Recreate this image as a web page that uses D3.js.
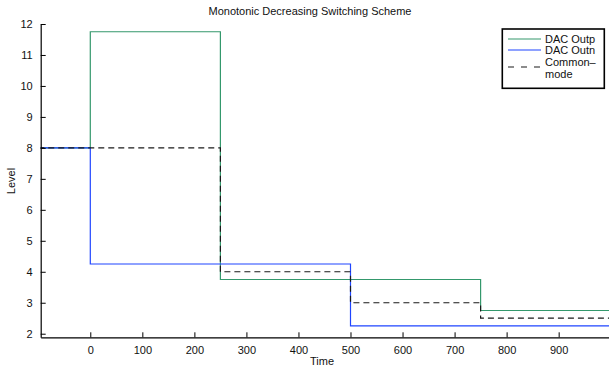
<!DOCTYPE html>
<html>
<head>
<meta charset="utf-8">
<script src="https://cdn.jsdelivr.net/npm/d3@7"></script>
<style>
  html, body { margin: 0; padding: 0; background: #fff; }
  svg { display: block; font-family: "Liberation Sans", Arial, Helvetica, sans-serif; }
</style>
</head>
<body>
<svg id="chart" width="609" height="371"></svg>
<script>
// Switching instants (time) and the level held after each one
const times = [-100, 0, 250, 500, 750, 1000];
const outp = [8, 11.75, 3.75, 3.75, 2.75];
const outn = [8, 4.25, 4.25, 2.25, 2.25];
const common = [8, 8, 4, 3, 2.5];

const xTicks = [0, 100, 200, 300, 400, 500, 600, 700, 800, 900];
const yTicks = [2, 3, 4, 5, 6, 7, 8, 9, 10, 11, 12];

const seriesNames = ["DAC Outp", "DAC Outn", "Common\u2013mode"];

const svg = d3.select("#chart");
const plotLeft = 40.7, plotRight = 610.7, plotTop = 24, plotBottom = 337.3;

const x = d3.scaleLinear().domain([-95.3, 1000]).range([plotLeft, plotRight]);
const y = d3.scaleLinear().domain([1.884, 12]).range([plotBottom, plotTop]);

svg.append("defs").append("clipPath").attr("id", "plotClip")
  .append("rect").attr("x", plotLeft).attr("y", plotTop - 2)
  .attr("width", plotRight - plotLeft).attr("height", plotBottom - plotTop + 2);

// piecewise-constant points: each level held until the next switching instant
function stepPoints(levels) {
  const pts = [];
  levels.forEach((v, i) => {
    pts.push([times[i], v]);
    pts.push([times[i + 1], v]);
  });
  return pts;
}

const line = d3.line().x(d => x(d[0])).y(d => y(d[1]));

const series = [
  { name: seriesNames[0], values: outp, color: "#34986c", dash: null, legendDash: null },
  { name: seriesNames[1], values: outn, color: "#1f45ff", dash: null, legendDash: null },
  { name: seriesNames[2], values: common, color: "#1a1a1a", dash: "6,4", legendDash: "6,7" }
];

const plot = svg.append("g").attr("clip-path", "url(#plotClip)");
series.forEach(s => {
  plot.append("path")
    .datum(stepPoints(s.values))
    .attr("d", line)
    .attr("fill", "none")
    .attr("stroke", s.color)
    .attr("stroke-width", 1.2)
    .attr("stroke-dasharray", s.dash);
});

// axes with inward ticks
const xAxis = svg.append("g").attr("transform", `translate(0,${plotBottom})`)
  .call(d3.axisBottom(x).tickValues(xTicks).tickSize(-5).tickPadding(9).tickSizeOuter(0));
const yAxis = svg.append("g").attr("transform", `translate(${plotLeft},0)`)
  .call(d3.axisLeft(y).tickValues(yTicks).tickSize(-5).tickPadding(8).tickSizeOuter(0));

[xAxis, yAxis].forEach(a => {
  a.select(".domain").attr("stroke", "#000").attr("stroke-width", 1.2);
  a.selectAll(".tick line").attr("stroke", "#000").attr("stroke-width", 1);
  a.selectAll(".tick text").attr("font-size", 11).attr("fill", "#111")
    .attr("font-family", "Liberation Sans, Arial, sans-serif");
});

// title and axis labels
svg.append("text").attr("x", 310).attr("y", 15).attr("text-anchor", "middle")
  .attr("font-size", 11).attr("fill", "#111").text("Monotonic Decreasing Switching Scheme");
svg.append("text").attr("x", 322).attr("y", 365).attr("text-anchor", "middle")
  .attr("font-size", 11).attr("fill", "#111").text("Time");
svg.append("text").attr("transform", "translate(15,181) rotate(-90)")
  .attr("text-anchor", "middle").attr("font-size", 11).attr("fill", "#111").text("Level");

// legend
const lg = svg.append("g");
lg.append("rect").attr("x", 502.3).attr("y", 29).attr("width", 102).attr("height", 59.3)
  .attr("fill", "#fff").attr("stroke", "#000").attr("stroke-width", 1.6);
const rowsY = [39, 50, 67];
series.forEach((s, i) => {
  lg.append("line").attr("x1", 508).attr("x2", 541).attr("y1", rowsY[i]).attr("y2", rowsY[i])
    .attr("stroke", s.color).attr("stroke-width", 1.2).attr("stroke-dasharray", s.legendDash);
});
lg.append("text").attr("x", 545).attr("y", 43).attr("font-size", 11).attr("fill", "#111").text(seriesNames[0]);
lg.append("text").attr("x", 545).attr("y", 54).attr("font-size", 11).attr("fill", "#111").text(seriesNames[1]);
const parts = seriesNames[2].split("\u2013");
lg.append("text").attr("x", 545).attr("y", 66).attr("font-size", 11).attr("fill", "#111").text(parts[0] + "\u2013");
lg.append("text").attr("x", 545).attr("y", 78).attr("font-size", 11).attr("fill", "#111").text(parts[1]);
</script>
</body>
</html>
